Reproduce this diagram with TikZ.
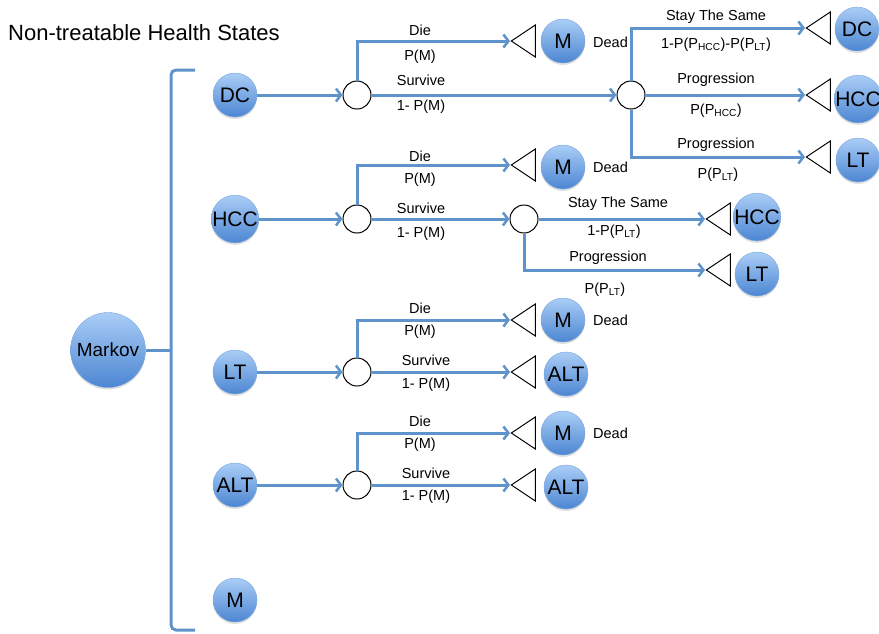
\documentclass[tikz,border=0pt]{standalone}
\usepackage{fontspec}
\setmainfont{Liberation Sans}
\usetikzlibrary{shapes.geometric,arrows.meta,shadows}

\definecolor{linkblue}{RGB}{94,147,204}
\definecolor{balltop}{RGB}{170,205,246}
\definecolor{ballbot}{RGB}{76,134,210}
\definecolor{balledge}{RGB}{120,165,220}

\begin{document}
\begin{tikzpicture}[x=1pt,y=-1pt,
    state/.style = {circle, inner sep=0pt, minimum size=44pt, top color=balltop, bottom color=ballbot,
                    draw=balledge, line width=0.4pt, font=\fontsize{21}{21}\selectfont,
                    drop shadow={opacity=0.25, shadow xshift=0pt, shadow yshift=-2pt}},
    chance/.style = {draw, circle, fill=white, minimum size=28pt, inner sep=0pt, line width=1pt},
    term/.style = {draw, isosceles triangle, isosceles triangle stretches, shape border rotate=180,
                   minimum width=32pt, minimum height=24pt, inner sep=0pt, fill=white, line width=1pt, anchor=apex},
    branch/.style = {draw=linkblue, line width=3pt, -{Straight Barb[length=5pt,width=13pt,line width=2.5pt]}},
    bracket/.style = {draw=linkblue, line width=3pt},
    lbl/.style = {font=\fontsize{14.5}{14.5}\selectfont, inner sep=0pt}]
\useasboundingbox (0,0) rectangle (879,633);

\node[anchor=west, inner sep=0pt, font=\fontsize{22}{22}\selectfont] (title) at (8,33) {Non-treatable Health States};

% markov root and its bracket
\node[state, minimum size=75pt, font=\fontsize{19}{19}\selectfont] (mk) at (108,350) {Markov};
\coordinate (bt) at (195,70);
\coordinate (bm) at (171,350);
\coordinate (bb) at (195,630);
\draw[bracket, rounded corners=5pt] (bt) -| (bm) |- (bb);
\draw[bracket] (mk) -- (bm);

% health states
\node[state] (dc)  at (235,95)  {DC};
\node[state] (hcc) at (235,219) {HCC};
\node[state] (lt)  at (235,372) {LT};
\node[state] (alt) at (235,485) {ALT};
\node[state] (mm)  at (235,600) {M};

% chance nodes
\node[chance] (c1) at (357,95)  {};
\node[chance] (c2) at (357,219) {};
\node[chance] (c3) at (357,372) {};
\node[chance] (c4) at (357,485) {};
\node[chance] (c1b) at (631,95)  {};
\node[chance] (c2b) at (524,219) {};

\draw[branch] (dc)  -- (c1);
\draw[branch] (hcc) -- (c2);
\draw[branch] (lt)  -- (c3);
\draw[branch] (alt) -- (c4);

% terminal nodes
\node[term] (t1)  at (510,41)  {};
\node[term] (t2)  at (805,28)  {};
\node[term] (t3)  at (805,95)  {};
\node[term] (t4)  at (805,157) {};
\node[term] (t5)  at (510,165) {};
\node[term] (t6)  at (705,219) {};
\node[term] (t7)  at (705,270) {};
\node[term] (t8)  at (510,320) {};
\node[term] (t9)  at (510,372) {};
\node[term] (t10) at (510,433) {};
\node[term] (t11) at (510,485) {};

\node[state] (m1)   at (563,41)  {M};
\node[state] (dc2)  at (857,29)  {DC};
\node[state] (hcc2) at (858,99)  {HCC};
\node[state] (lt2)  at (858,160) {LT};
\node[state] (m2)   at (563,167) {M};
\node[state] (hcc3) at (757,217) {HCC};
\node[state] (lt3)  at (757,274) {LT};
\node[state] (m3)   at (563,320) {M};
\node[state] (alt2) at (566,374) {ALT};
\node[state] (m4)   at (563,433) {M};
\node[state] (alt3) at (566,487) {ALT};

% branches
\draw[branch] (c1.north) |- (t1.apex);
\draw[branch] (c1) -- (c1b);
\draw[branch] (c1b.north) |- (t2.apex);
\draw[branch] (c1b) -- (t3.apex);
\draw[branch] (c1b.south) |- (t4.apex);
\draw[branch] (c2.north) |- (t5.apex);
\draw[branch] (c2) -- (c2b);
\draw[branch] (c2b) -- (t6.apex);
\draw[branch] (c2b.south) |- (t7.apex);
\draw[branch] (c3.north) |- (t8.apex);
\draw[branch] (c3) -- (t9.apex);
\draw[branch] (c4.north) |- (t10.apex);
\draw[branch] (c4) -- (t11.apex);

% branch labels
\node[lbl] (d1)  at (420,30)  {Die};
\node[lbl] (p1)  at (420,57)  {P(M)};
\node[lbl] (s1)  at (421,80)  {Survive};
\node[lbl] (q1)  at (421,107) {1- P(M)};
\node[lbl] (d2)  at (420,156) {Die};
\node[lbl] (p2)  at (420,180) {P(M)};
\node[lbl] (s2)  at (421,208) {Survive};
\node[lbl] (q2)  at (421,234) {1- P(M)};
\node[lbl] (d3)  at (420,308) {Die};
\node[lbl] (p3)  at (420,332) {P(M)};
\node[lbl] (s3)  at (426,360) {Survive};
\node[lbl] (q3)  at (426,385) {1- P(M)};
\node[lbl] (d4)  at (420,421) {Die};
\node[lbl] (p4)  at (420,445) {P(M)};
\node[lbl] (s4)  at (426,473) {Survive};
\node[lbl] (q4)  at (426,497) {1- P(M)};

\node[lbl] (ss1) at (716,17)  {Stay The Same};
\node[lbl] (sp1) at (716,45)  {1-P(P\textsubscript{HCC})-P(P\textsubscript{LT})};
\node[lbl] (pg1) at (716,80)  {Progression};
\node[lbl] (pp1) at (716,111) {P(P\textsubscript{HCC})};
\node[lbl] (pg2) at (716,145) {Progression};
\node[lbl] (pp2) at (718,175) {P(P\textsubscript{LT})};
\node[lbl] (ss2) at (618,204) {Stay The Same};
\node[lbl] (sp2) at (614,232) {1-P(P\textsubscript{LT})};
\node[lbl] (pg3) at (608,258) {Progression};
\node[lbl] (pp3) at (605,290) {P(P\textsubscript{LT})};

\node[lbl, anchor=west] (x1) at (593,42)  {Dead};
\node[lbl, anchor=west] (x2) at (593,167) {Dead};
\node[lbl, anchor=west] (x3) at (593,320) {Dead};
\node[lbl, anchor=west] (x4) at (593,433) {Dead};
\end{tikzpicture}
\end{document}
